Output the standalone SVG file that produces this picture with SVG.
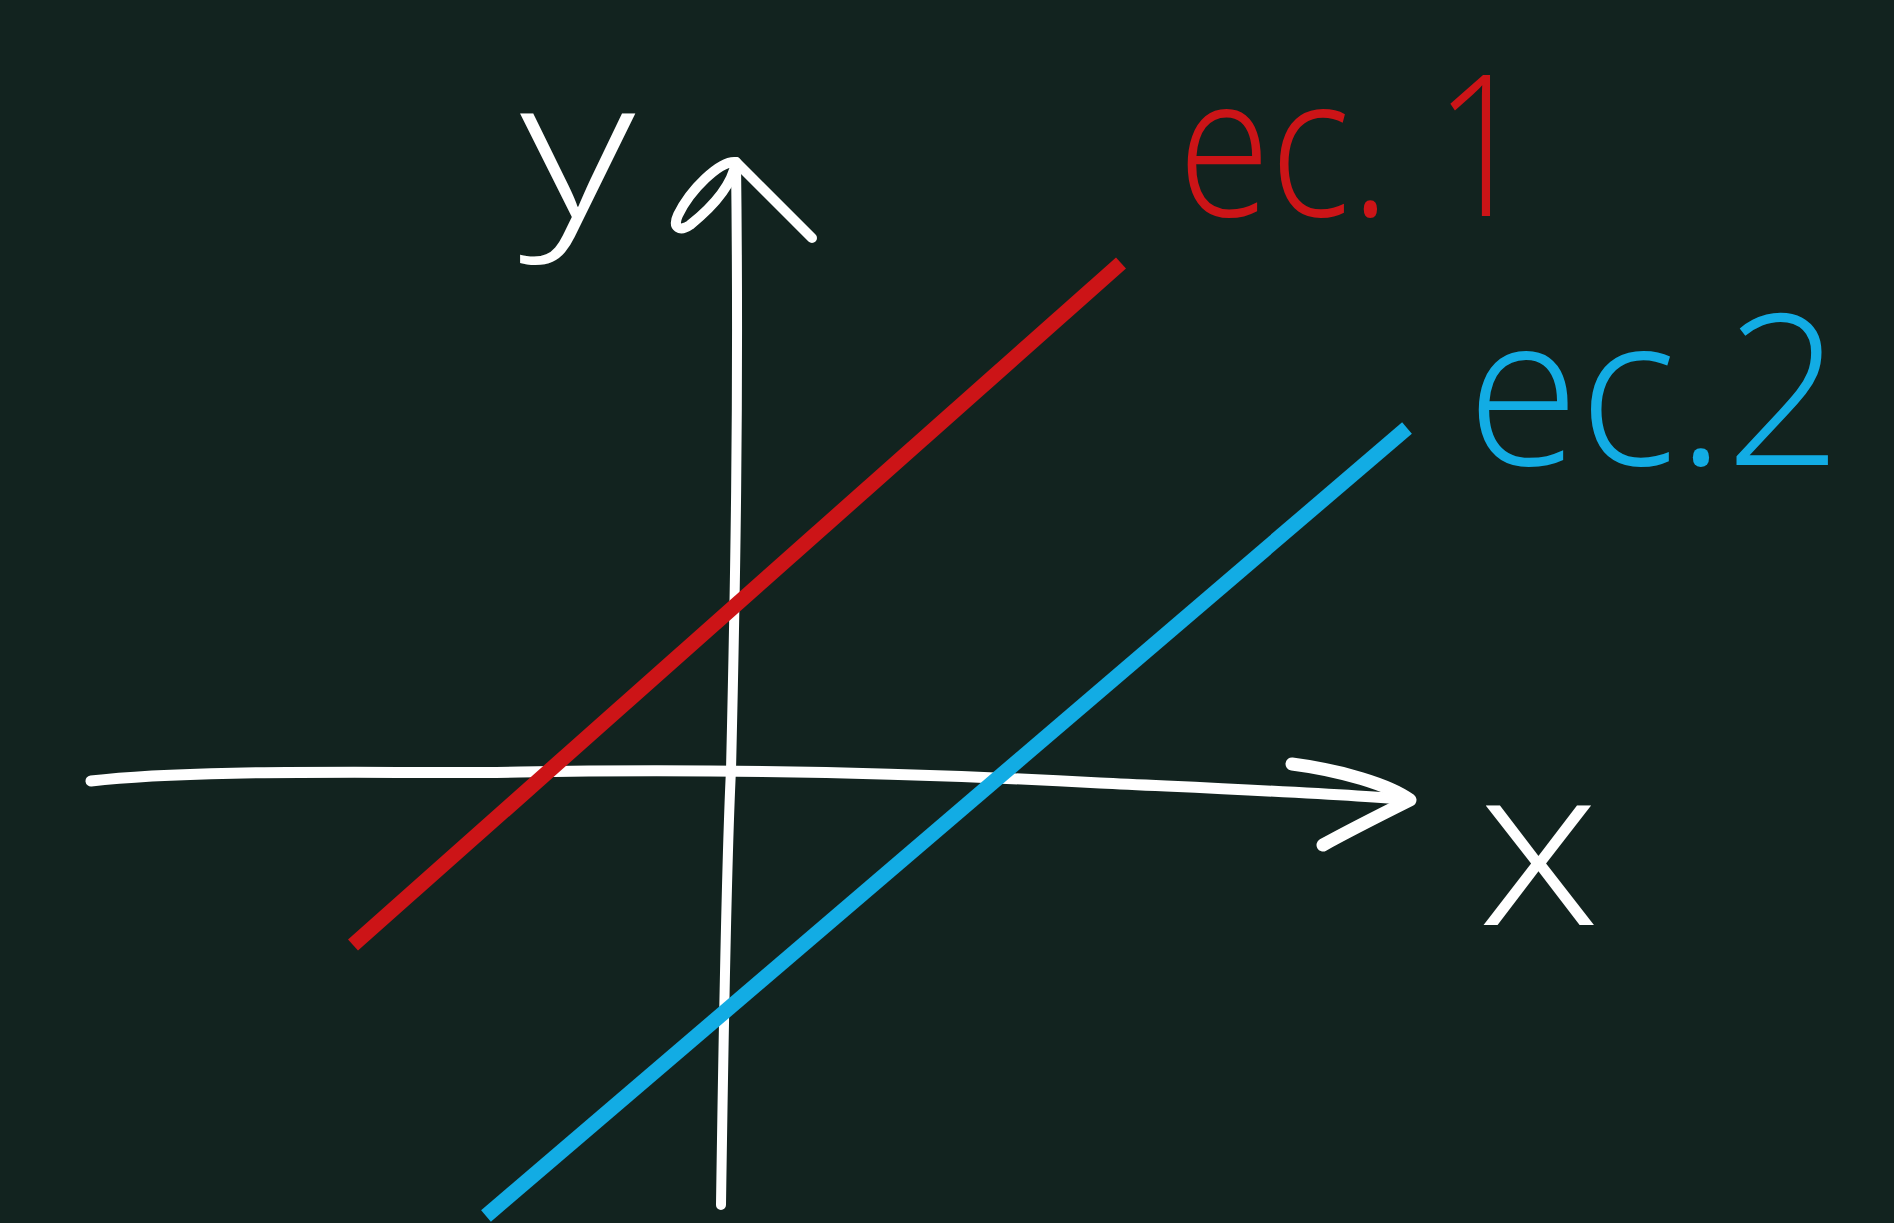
<svg xmlns="http://www.w3.org/2000/svg" width="1894" height="1223" viewBox="0 0 1894 1223">
<style>
.ax{fill:none;stroke:#ffffff;stroke-width:10;stroke-linecap:round;stroke-linejoin:round}
.red{fill:none;stroke:#cc1417;stroke-width:15;stroke-linecap:butt}
.blue{fill:none;stroke:#12ace4;stroke-width:15;stroke-linecap:butt}
.lbl{font-family:"Open Sans","DejaVu Sans",sans-serif;font-weight:300}
</style>
<rect width="1894" height="1223" fill="#12231f"/>
<g id="axes">
<path class="ax" d="M721,1205 C724,1000 727,850 731,770 C735,600 739,400 736,162"/>
<path class="ax" d="M736,162 C720,160 690,190 678,215 C672,228 680,232 690,225 C715,205 732,185 736,162 L812,238"/>
<path class="ax" d="M91,781 C200,768 400,774 520,772 C700,769 900,772 1100,783 C1250,790 1350,794 1410,800" style="stroke-width:11"/>
<path class="ax" d="M1292,764 C1340,770 1390,785 1410,800 C1380,815 1350,830 1323,845" style="stroke-width:13"/>
</g>
<g id="lines">
<line id="ec1" class="red" x1="353" y1="945" x2="1121" y2="263"/>
<line id="ec2" class="blue" x1="486" y1="1216" x2="1407" y2="428"/>
</g>
<g id="labels">
<text class="lbl" x="520" y="218" font-size="195" fill="#ffffff" textLength="115" lengthAdjust="spacingAndGlyphs">y</text>
<text class="lbl" x="1478" y="925" font-size="225" fill="#ffffff" textLength="122" lengthAdjust="spacingAndGlyphs">x</text>
<text class="lbl" x="1178" y="216" font-size="198" fill="#cc1417" textLength="352" lengthAdjust="spacingAndGlyphs">ec. 1</text>
<text class="lbl" x="1467" y="465" font-size="210" fill="#12ace4" textLength="375" lengthAdjust="spacingAndGlyphs">ec.2</text>
</g>
</svg>
